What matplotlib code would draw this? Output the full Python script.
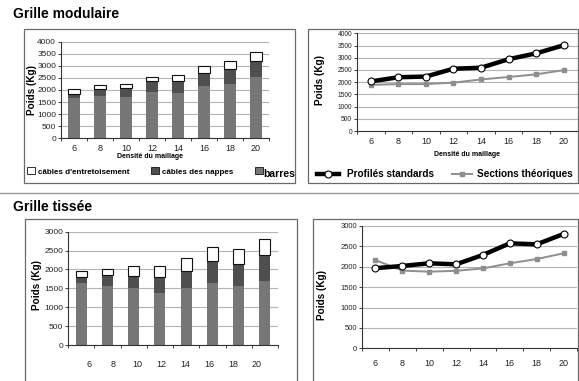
#!/usr/bin/env python
# coding: utf-8

import numpy as np
import matplotlib
matplotlib.use("Agg")
import matplotlib.pyplot as plt
from matplotlib.patches import Rectangle
from matplotlib.lines import Line2D

plt.rcParams['font.family'] = ['Liberation Sans', 'DejaVu Sans']

# Figure size in pixels
W, H = 579, 381

# Categories (densité du maillage)
densite = [6, 8, 10, 12, 14, 16, 18, 20]

# Grille modulaire - stacked bars (Kg)
mod_barres = [1655, 1750, 1700, 1930, 1860, 2165, 2250, 2550]
mod_nappes = [195, 280, 370, 430, 510, 525, 635, 650]
mod_entretoisement = [180, 165, 165, 180, 235, 290, 300, 360]

# Grille modulaire - lines (Kg)
mod_profiles = [2030, 2200, 2230, 2550, 2590, 2940, 3180, 3510]
mod_sections = [1890, 1920, 1920, 1980, 2110, 2210, 2320, 2490]

# Grille tissée - stacked bars (Kg)
tis_barres = [1635, 1550, 1505, 1375, 1520, 1650, 1550, 1705]
tis_nappes = [175, 295, 320, 415, 445, 575, 600, 680]
tis_entretoisement = [155, 170, 270, 295, 345, 365, 405, 430]

# Grille tissée - lines (Kg)
tis_profiles = [1965, 2020, 2085, 2060, 2290, 2575, 2550, 2805]
tis_sections = [2165, 1905, 1880, 1900, 1960, 2085, 2190, 2330]

legend_bars = ["câbles d'entretoisement", "câbles des nappes", "barres"]
legend_lines = ["Profilés standards", "Sections théoriques"]

COL_BARRES = '#777777'
COL_NAPPES = '#4f4f4f'
COL_GRID = '#b4b4b4'
COL_SECTIONS = '#8e8e8e'

# line styles shared by the plots and the hand-made legend
PROFIL_STYLE = dict(color='black', linewidth=3.2, marker='o', markersize=5,
                    markerfacecolor='white', markeredgecolor='black',
                    markeredgewidth=0.8)
SECTION_STYLE = dict(color=COL_SECTIONS, linewidth=1.4, marker='s',
                     markersize=3.2, markerfacecolor=COL_SECTIONS,
                     markeredgecolor=COL_SECTIONS)


def px(x, y):
    # pixel coords (origin top-left) -> figure fraction
    return x / W, 1 - y / H


def add_axes_px(fig, x0, y0, x1, y1):
    return fig.add_axes([x0 / W, 1 - y1 / H, (x1 - x0) / W, (y1 - y0) / H])


def box_px(fig, x0, y0, x1, y1):
    fig.add_artist(Rectangle(px(x0, y1), (x1 - x0) / W, (y1 - y0) / H,
                             transform=fig.transFigure, fill=False,
                             edgecolor='#6a6a6a', linewidth=0.9))


def style_axes(ax, ymax, ystep, ysize, xsize, show_xlabels=True):
    n = len(densite)
    ax.set_xlim(-0.5, n - 0.5)
    ax.set_ylim(0, ymax)
    ax.set_yticks(np.arange(0, ymax + 1, ystep))
    ax.tick_params(axis='y', labelsize=ysize, length=2.5, width=0.6,
                   pad=1, colors='#222222')
    ax.yaxis.grid(True, color=COL_GRID, linewidth=0.8)
    ax.set_axisbelow(True)
    # category boundaries get the tick marks, like Excel
    ax.set_xticks(np.arange(-0.5, n, 1), minor=True)
    ax.tick_params(axis='x', which='minor', length=2.5, width=0.6,
                   color='#222222')
    ax.set_xticks(range(n))
    if show_xlabels:
        ax.set_xticklabels([str(d) for d in densite])
    else:
        ax.set_xticklabels([])
    ax.tick_params(axis='x', which='major', length=0, labelsize=xsize,
                   pad=4, colors='#222222')
    for s in ['top', 'right']:
        ax.spines[s].set_visible(False)
    for s in ['left', 'bottom']:
        ax.spines[s].set_color('#333333')
        ax.spines[s].set_linewidth(0.8)


def draw_bars(ax, barres, nappes, entret, width):
    x = np.arange(len(densite))
    ax.bar(x, barres, width, color=COL_BARRES, linewidth=0)
    ax.bar(x, nappes, width, bottom=barres, color=COL_NAPPES, linewidth=0)
    bottom = np.array(barres) + np.array(nappes)
    ax.bar(x, entret, width, bottom=bottom, color='white',
           edgecolor='#111111', linewidth=0.8)


def draw_lines(ax, profiles, sections):
    x = np.arange(len(densite))
    ax.plot(x, sections, zorder=3, **SECTION_STYLE)
    ax.plot(x, profiles, zorder=4, **PROFIL_STYLE)


def legend_line(fig, x0, x1, y, style, label, tx):
    # line sample with a marker in the middle, then the label
    line = {k: v for k, v in style.items() if not k.startswith('marker')}
    fig.add_artist(Line2D([x0 / W, x1 / W], [1 - y / H] * 2,
                          transform=fig.transFigure, **line))
    fig.add_artist(Line2D([(x0 + x1) / 2 / W], [1 - y / H],
                          transform=fig.transFigure, linestyle='none',
                          **{k: v for k, v in style.items()
                             if k.startswith('marker')}))
    fig.text(*px(tx, y), label, fontsize=7.2, fontweight='bold',
             va='center', ha='left')


def main():
    fig = plt.figure(figsize=(W / 100, H / 100), dpi=100)

    # Section titles and separator
    fig.text(*px(13, 14), "Grille modulaire", fontsize=10, fontweight='bold',
             va='center', ha='left')
    fig.text(*px(13, 207), "Grille tissée", fontsize=10, fontweight='bold',
             va='center', ha='left')
    fig.add_artist(Line2D([0, 1], [1 - 192.5 / H] * 2, transform=fig.transFigure,
                          color='#9a9a9a', linewidth=1.0))

    # Boxes around each chart
    box_px(fig, 23.5, 28.5, 295, 182.5)
    box_px(fig, 308, 28.5, 578, 182.5)
    box_px(fig, 25, 218.5, 297, 390)
    box_px(fig, 313, 219, 578, 390)

    # ---- Grille modulaire, bars ----
    ax1 = add_axes_px(fig, 61, 41.7, 269, 138.3)
    draw_bars(ax1, mod_barres, mod_nappes, mod_entretoisement, 0.45)
    style_axes(ax1, 4000, 500, 6, 6.5)
    fig.text(*px(32, 90), "Poids (Kg)", rotation=90, fontsize=7.2,
             fontweight='bold', ha='center', va='center')
    fig.text(*px(150, 157), "Densité du maillage", fontsize=5,
             fontweight='bold', ha='center', va='center')

    # Legend drawn by hand (mixed font sizes)
    sw = [(27, 166.5, '#ffffff'), (151, 166.5, COL_NAPPES),
          (255, 166.5, COL_BARRES)]
    for (x0, y0, c) in sw:
        fig.add_artist(Rectangle(px(x0, y0 + 7.5), 7.5 / W, 7.5 / H,
                                 transform=fig.transFigure, facecolor=c,
                                 edgecolor='#111111', linewidth=0.6))
    fig.text(*px(37.5, 173), legend_bars[0], fontsize=5.8, fontweight='bold',
             va='center', ha='left')
    fig.text(*px(161.5, 173), legend_bars[1], fontsize=5.8, fontweight='bold',
             va='center', ha='left')
    fig.text(*px(263.5, 174), legend_bars[2], fontsize=7.5, fontweight='bold',
             va='center', ha='left')

    # ---- Grille modulaire, lines ----
    ax2 = add_axes_px(fig, 357, 33.3, 577.5, 131)
    draw_lines(ax2, mod_profiles, mod_sections)
    style_axes(ax2, 4000, 500, 4.8, 6.5)
    fig.text(*px(320, 80), "Poids (Kg)", rotation=90, fontsize=7.2,
             fontweight='bold', ha='center', va='center')
    fig.text(*px(467, 155), "Densité du maillage", fontsize=5,
             fontweight='bold', ha='center', va='center')
    legend_line(fig, 317, 339, 174, PROFIL_STYLE, legend_lines[0], 347)
    legend_line(fig, 452, 472, 174, SECTION_STYLE, legend_lines[1], 477)

    # ---- Grille tissée, bars ----
    ax3 = add_axes_px(fig, 68, 231.7, 278, 345)
    draw_bars(ax3, tis_barres, tis_nappes, tis_entretoisement, 0.42)
    style_axes(ax3, 3000, 500, 6, 6.5, show_xlabels=False)
    # labels in the source sit slightly off the bars
    ax3b = ax3.twiny()
    ax3b.set_xlim(-0.89, 7.88)
    ax3b.xaxis.set_ticks_position('bottom')
    ax3b.set_xticks(range(len(densite)))
    ax3b.set_xticklabels([str(d) for d in densite])
    ax3b.tick_params(axis='x', length=0, labelsize=6.5, pad=11,
                     colors='#222222')
    for s in ax3b.spines.values():
        s.set_visible(False)
    fig.text(*px(36.5, 285), "Poids (Kg)", rotation=90, fontsize=7.2,
             fontweight='bold', ha='center', va='center')

    # ---- Grille tissée, lines ----
    ax4 = add_axes_px(fig, 362, 226, 577, 348.3)
    draw_lines(ax4, tis_profiles, tis_sections)
    style_axes(ax4, 3000, 500, 5.5, 6.5)
    ax4.tick_params(axis='x', which='major', pad=8)
    fig.text(*px(322, 295), "Poids (Kg)", rotation=90, fontsize=7.2,
             fontweight='bold', ha='center', va='center')

    fig.savefig("out.png", dpi=100)


if __name__ == "__main__":
    main()
